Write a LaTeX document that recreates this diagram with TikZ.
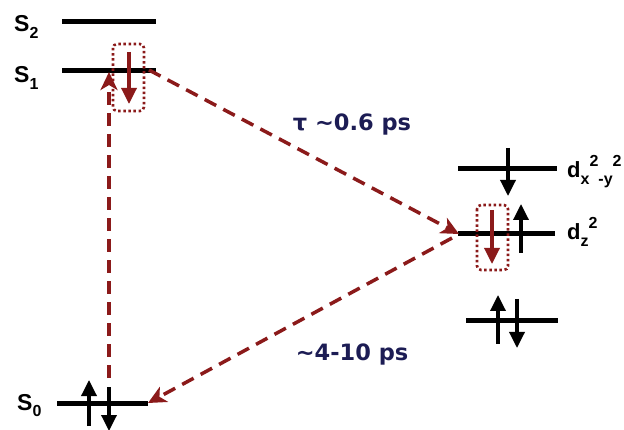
\documentclass[tikz,border=0pt]{standalone}
\usepackage{fontspec}
\setmainfont{Liberation Sans}
\newfontfamily\verd{DejaVu Sans}
\usetikzlibrary{arrows.meta}
\definecolor{dred}{HTML}{8B1A1A}
\definecolor{navy}{HTML}{1C1C54}
\newcommand\lsub[1]{\raisebox{-0.3em}{\fontsize{16}{16}\selectfont #1}}
\newcommand\lsup[1]{\raisebox{0.5em}{\fontsize{16}{16}\selectfont #1}}
\begin{document}
\begin{tikzpicture}[x=1pt,y=-1pt,
  level/.style={line width=5pt},
  spin/.style={line width=3.4pt,-{Triangle[length=16pt,width=15pt]}},
  rspin/.style={spin,dred},
  trans/.style={dred,line width=3.5pt,dash pattern=on 13pt off 8pt,-{Stealth[length=18pt,width=17pt,inset=5pt]}},
  hole/.style={draw=dred,line width=2.6pt,dash pattern=on 2.5pt off 2.6pt,rounded corners=4pt},
  lab/.style={font=\fontsize{23}{26}\selectfont\bfseries,inner sep=0pt,anchor=base west},
  dlab/.style={lab,font=\fontsize{22}{26}\selectfont\bfseries},
  time/.style={font=\verd\fontsize{22.5}{26}\selectfont\bfseries,text=navy,inner sep=0pt}]
\useasboundingbox (0,0) rectangle (624,430);
% levels
\coordinate (s2l) at (62,22);  \coordinate (s2r) at (156,22);
\coordinate (s1l) at (62,71);  \coordinate (s1r) at (156,71);
\coordinate (s0l) at (57,403); \coordinate (s0r) at (148,403);
\coordinate (dxl) at (458,169); \coordinate (dxr) at (557,169);
\coordinate (dzl) at (458,234); \coordinate (dzr) at (555,234);
\coordinate (dbl) at (466,321); \coordinate (dbr) at (558,321);
\draw[level] (s2l) -- (s2r);
\draw[level] (s1l) -- (s1r);
\draw[level] (s0l) -- (s0r);
\draw[level] (dxl) -- (dxr);
\draw[level] (dzl) -- (dzr);
\draw[level] (dbl) -- (dbr);
% labels
\node[lab] (ls2) at (14,32) {S\lsub{2}};
\node[lab] (ls1) at (14,83) {S\lsub{1}};
\node[lab] (ls0) at (17,410) {S\lsub{0}};
\node[dlab] (ldx) at (567,178) {d\lsub{x}\lsup{2}\lsub{-y}\lsup{2}};
\node[dlab] (ldz) at (567,240) {d\lsub{z}\lsup{2}};
% spins
\coordinate (a1) at (129,52);  \coordinate (a1e) at (129,104);
\draw[rspin] (a1) -- (a1e);
\coordinate (b1) at (89,426); \coordinate (b1e) at (89,380);
\draw[spin] (b1) -- (b1e);
\coordinate (b2) at (109,387); \coordinate (b2e) at (109,431);
\draw[spin] (b2) -- (b2e);
\coordinate (c1) at (508,148); \coordinate (c1e) at (508,196);
\draw[spin] (c1) -- (c1e);
\coordinate (c2) at (492,210); \coordinate (c2e) at (492,264);
\draw[rspin] (c2) -- (c2e);
\coordinate (c3) at (521,253); \coordinate (c3e) at (521,204);
\draw[spin] (c3) -- (c3e);
\coordinate (e1) at (498,344); \coordinate (e1e) at (498,295);
\draw[spin] (e1) -- (e1e);
\coordinate (e2) at (517,299); \coordinate (e2e) at (517,348);
\draw[spin] (e2) -- (e2e);
% holes
\draw[hole] (113,44) rectangle (144,111);
\draw[hole] (477,205) rectangle (508,270);
% transitions
\coordinate (t0) at (109,378); \coordinate (t0e) at (109,72);
\draw[trans] (t0) -- (t0e);
\coordinate (t1) at (149,70); \coordinate (t1e) at (459,234);
\draw[trans] (t1) -- (t1e);
\coordinate (t2) at (452,238); \coordinate (t2e) at (148,403);
\draw[trans] (t2) -- (t2e);
% times
\node[time] (tau) at (352,124) {τ \textasciitilde0.6 ps};
\node[time] (slow) at (352,354) {\textasciitilde4-10 ps};
\end{tikzpicture}
\end{document}
